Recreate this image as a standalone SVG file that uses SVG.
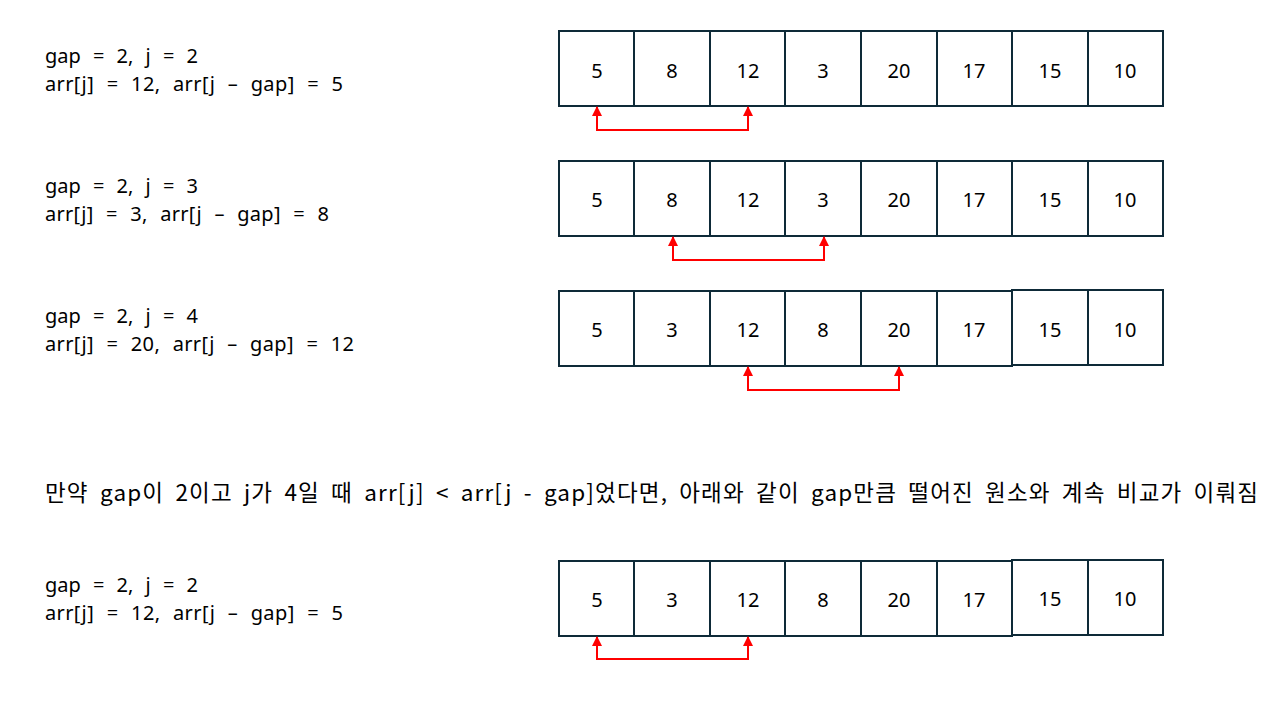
<svg xmlns="http://www.w3.org/2000/svg" width="1280" height="720" viewBox="0 0 1280 720">
<defs>
<style>
.c{fill:#fff;stroke:#0e2a38;stroke-width:2}
.n{font-family:"Noto Sans","Noto Sans CJK KR",sans-serif;font-size:20px;fill:#000;text-anchor:middle}
.t{font-family:"Noto Sans","Noto Sans CJK KR",sans-serif;font-size:20px;fill:#000;word-spacing:7px}
.k{font-family:"Noto Sans CJK KR",sans-serif;font-size:22.5px;fill:#000;word-spacing:5px}
.a{fill:none;stroke:#ff0000;stroke-width:2}
</style>
<marker id="ah" viewBox="0 0 10 10" refX="9" refY="5" markerWidth="5" markerHeight="5" orient="auto" markerUnits="strokeWidth">
<path d="M0,0 L10,5 L0,10 z" fill="#ff0000"/>
</marker>
</defs>
<rect width="1280" height="720" fill="#fff"/>

<g id="label1">
<text class="t" x="45" y="63" textLength="153" lengthAdjust="spacing">gap = 2, j = 2</text>
<text class="t" x="45" y="91" textLength="298" lengthAdjust="spacing">arr[j] = 12, arr[j – gap] = 5</text>
</g>
<g id="label2">
<text class="t" x="45" y="193" textLength="153" lengthAdjust="spacing">gap = 2, j = 3</text>
<text class="t" x="45" y="221" textLength="284" lengthAdjust="spacing">arr[j] = 3, arr[j – gap] = 8</text>
</g>
<g id="label3">
<text class="t" x="45" y="323" textLength="153" lengthAdjust="spacing">gap = 2, j = 4</text>
<text class="t" x="45" y="351" textLength="309" lengthAdjust="spacing">arr[j] = 20, arr[j – gap] = 12</text>
</g>
<g id="note">
<text class="k" x="45" y="501" textLength="1213" lengthAdjust="spacing">만약 gap이 2이고 j가 4일 때 arr[j] &lt; arr[j - gap]었다면, 아래와 같이 gap만큼 떨어진 원소와 계속 비교가 이뤄짐</text>
</g>
<g id="label4">
<text class="t" x="45" y="592" textLength="153" lengthAdjust="spacing">gap = 2, j = 2</text>
<text class="t" x="45" y="620" textLength="298" lengthAdjust="spacing">arr[j] = 12, arr[j – gap] = 5</text>
</g>

<g id="row1">
<rect class="c" x="559" y="31" width="75" height="75"/>
<rect class="c" x="634" y="31" width="76" height="75"/>
<rect class="c" x="710" y="31" width="75" height="75"/>
<rect class="c" x="785" y="31" width="76" height="75"/>
<rect class="c" x="861" y="31" width="76" height="75"/>
<rect class="c" x="937" y="31" width="75" height="75"/>
<rect class="c" x="1012" y="31" width="76" height="75"/>
<rect class="c" x="1088" y="31" width="75" height="75"/>
<text class="n" x="597" y="78">5</text>
<text class="n" x="672" y="78">8</text>
<text class="n" x="748" y="78">12</text>
<text class="n" x="823" y="78">3</text>
<text class="n" x="899" y="78">20</text>
<text class="n" x="974" y="78">17</text>
<text class="n" x="1050" y="78">15</text>
<text class="n" x="1125" y="78">10</text>
</g>

<g id="row2">
<rect class="c" x="559" y="161" width="75" height="75"/>
<rect class="c" x="634" y="161" width="76" height="75"/>
<rect class="c" x="710" y="161" width="75" height="75"/>
<rect class="c" x="785" y="161" width="76" height="75"/>
<rect class="c" x="861" y="161" width="76" height="75"/>
<rect class="c" x="937" y="161" width="75" height="75"/>
<rect class="c" x="1012" y="161" width="76" height="75"/>
<rect class="c" x="1088" y="161" width="75" height="75"/>
<text class="n" x="597" y="207">5</text>
<text class="n" x="672" y="207">8</text>
<text class="n" x="748" y="207">12</text>
<text class="n" x="823" y="207">3</text>
<text class="n" x="899" y="207">20</text>
<text class="n" x="974" y="207">17</text>
<text class="n" x="1050" y="207">15</text>
<text class="n" x="1125" y="207">10</text>
</g>

<g id="row3">
<rect class="c" x="559" y="291" width="75" height="75"/>
<rect class="c" x="634" y="291" width="76" height="75"/>
<rect class="c" x="710" y="291" width="75" height="75"/>
<rect class="c" x="785" y="291" width="76" height="75"/>
<rect class="c" x="861" y="291" width="76" height="75"/>
<rect class="c" x="937" y="291" width="75" height="75"/>
<rect class="c" x="1012" y="290" width="76" height="75"/>
<rect class="c" x="1088" y="290" width="75" height="75"/>
<text class="n" x="597" y="337">5</text>
<text class="n" x="672" y="337">3</text>
<text class="n" x="748" y="337">12</text>
<text class="n" x="823" y="337">8</text>
<text class="n" x="899" y="337">20</text>
<text class="n" x="974" y="337">17</text>
<text class="n" x="1050" y="337">15</text>
<text class="n" x="1125" y="337">10</text>
</g>

<g id="row4">
<rect class="c" x="559" y="561" width="75" height="75"/>
<rect class="c" x="634" y="561" width="76" height="75"/>
<rect class="c" x="710" y="561" width="75" height="75"/>
<rect class="c" x="785" y="561" width="76" height="75"/>
<rect class="c" x="861" y="561" width="76" height="75"/>
<rect class="c" x="937" y="561" width="75" height="75"/>
<rect class="c" x="1012" y="560" width="76" height="75"/>
<rect class="c" x="1088" y="560" width="75" height="75"/>
<text class="n" x="597" y="607">5</text>
<text class="n" x="672" y="607">3</text>
<text class="n" x="748" y="607">12</text>
<text class="n" x="823" y="607">8</text>
<text class="n" x="899" y="607">20</text>
<text class="n" x="974" y="607">17</text>
<text class="n" x="1050" y="606">15</text>
<text class="n" x="1125" y="606">10</text>
</g>

<g id="connectors">
<path class="a" d="M748,118 V130 H597 V118"/>
<path class="a" d="M748,122 V107" marker-end="url(#ah)"/>
<path class="a" d="M597,122 V107" marker-end="url(#ah)"/>
<path class="a" d="M824,248 V260 H673 V248"/>
<path class="a" d="M824,252 V237" marker-end="url(#ah)"/>
<path class="a" d="M673,252 V237" marker-end="url(#ah)"/>
<path class="a" d="M899,378 V390 H748 V378"/>
<path class="a" d="M899,382 V367" marker-end="url(#ah)"/>
<path class="a" d="M748,382 V367" marker-end="url(#ah)"/>
<path class="a" d="M748,647 V659 H597 V647"/>
<path class="a" d="M748,651 V637" marker-end="url(#ah)"/>
<path class="a" d="M597,651 V637" marker-end="url(#ah)"/>
</g>
</svg>
